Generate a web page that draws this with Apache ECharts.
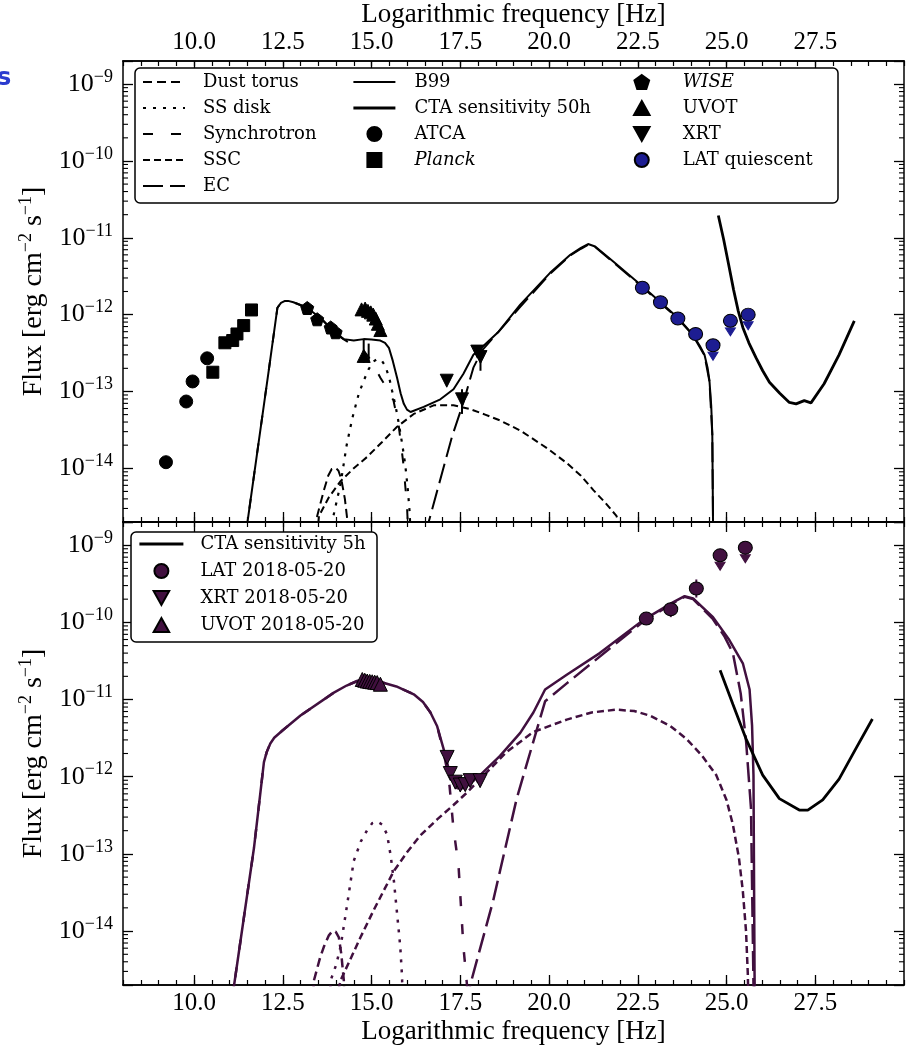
<!DOCTYPE html>
<html><head><meta charset="utf-8">
<script src="https://cdn.jsdelivr.net/npm/echarts@6/dist/echarts.min.js"></script>
<style>html,body{margin:0;padding:0;background:#fff}#c{width:911px;height:1046px}</style>
</head><body><div id="c"></div>
<script>
// ---------------- DATA ----------------
const xMajorTicks = [10, 12.5, 15, 17.5, 20, 22.5, 25, 27.5];

// Top panel (quiescent) model components [log10 nu, flux]
const dustTop = [[13.42,1.0e-15],[13.47,2.4e-15],[13.65,5.0e-15],[13.78,8.0e-15],[13.88,9.8e-15],[13.99,1.02e-14],[14.07,9.3e-15],[14.15,7.2e-15],[14.25,4.0e-15],[14.32,2.1e-15],[14.35,1.0e-15]];
const diskTop = [[13.86,1.0e-15],[13.9,2.1e-15],[14.13,6.3e-15],[14.3,2.0e-14],[14.46,4.5e-14],[14.64,9.3e-14],[14.78,1.38e-13],[14.92,1.95e-13],[15.05,2.45e-13],[15.16,2.63e-13],[15.28,2.55e-13],[15.39,2.14e-13],[15.5,1.5e-13],[15.58,1.02e-13],[15.68,6.4e-14],[15.77,3.8e-14],[15.87,2.0e-14],[15.95,1.12e-14],[16.02,5.5e-15],[16.08,2.5e-15],[16.1,1.0e-15]];
const syncTop = [[11.45,1.3e-15],[11.8,1.86e-14],[12.1,1.8e-13],[12.35,1.23e-12],[12.45,1.42e-12],[12.55,1.5e-12],[12.65,1.51e-12],[12.8,1.45e-12],[13.19,1.23e-12],[13.6,8.7e-13],[13.94,6.0e-13],[14.22,4.75e-13],[14.5,3.98e-13],[14.78,3.4e-13],[15.0,2.5e-13],[15.25,1.51e-13],[15.45,1.07e-13],[15.62,7.6e-14],[15.77,3.5e-14],[15.9,1.12e-14],[16.0,3.2e-15],[16.05,1.0e-15]];
const sscTop = [[13.45,1.0e-15],[13.52,2.4e-15],[13.8,4.2e-15],[14.13,6.8e-15],[14.5,1.0e-14],[14.88,1.41e-14],[15.3,2.2e-14],[15.72,3.47e-14],[16.19,5.1e-14],[16.75,6.6e-14],[17.31,6.6e-14],[17.78,5.9e-14],[18.2,5.0e-14],[18.62,4.2e-14],[19.19,3.1e-14],[19.56,2.4e-14],[20.0,1.75e-14],[20.5,1.17e-14],[20.9,8.0e-15],[21.25,5.2e-15],[21.6,3.5e-15],[21.9,2.4e-15],[22.05,1.5e-15]];
const ecTop = [[16.5,1.35e-15],[16.61,2.0e-15],[17.27,2.6e-14],[17.59,7.2e-14],[17.87,2.04e-13],[18.11,3.4e-13],[18.62,6.3e-13],[19.19,1.26e-12],[20.03,3.4e-12],[20.6,5.9e-12],[20.9,7.2e-12],[21.1,8.1e-12],[21.3,7.6e-12],[21.81,4.8e-12],[22.63,2.29e-12],[23.14,1.41e-12],[23.63,8.9e-13],[24.05,5.4e-13],[24.38,2.95e-13],[24.52,1.35e-13],[24.6,2.75e-14],[24.62,2.1e-15],[24.63,1.0e-15]];
const b99Top = [[11.45,1.3e-15],[11.8,1.86e-14],[12.1,1.8e-13],[12.35,1.23e-12],[12.45,1.42e-12],[12.55,1.5e-12],[12.65,1.51e-12],[12.8,1.45e-12],[13.19,1.23e-12],[13.6,8.7e-13],[13.94,6.0e-13],[14.22,4.8e-13],[14.5,4.6e-13],[14.78,4.8e-13],[15.0,4.75e-13],[15.25,4.6e-13],[15.38,4.3e-13],[15.49,3.7e-13],[15.6,2.5e-13],[15.72,1.51e-13],[15.82,9.5e-14],[15.91,6.9e-14],[16.0,5.8e-14],[16.1,5.4e-14],[16.47,6.3e-14],[16.94,7.9e-14],[17.31,1.07e-13],[17.59,1.7e-13],[17.87,3.0e-13],[18.15,3.9e-13],[18.58,6.0e-13],[19.19,1.35e-12],[20.03,3.5e-12],[20.6,6.0e-12],[20.9,7.4e-12],[21.1,8.3e-12],[21.3,7.7e-12],[21.81,4.9e-12],[22.63,2.34e-12],[23.14,1.45e-12],[23.63,9.1e-13],[24.05,5.5e-13],[24.25,3.9e-13],[24.38,3.0e-13],[24.47,2.0e-13],[24.52,1.38e-13],[24.57,6.5e-14],[24.6,2.8e-14],[24.62,2.1e-15],[24.63,1.0e-15]];
const cta50 = [[24.77,1.95e-11],[24.92,9.5e-12],[25.06,4.5e-12],[25.2,2.1e-12],[25.33,1.12e-12],[25.46,6.8e-13],[25.63,4.3e-13],[25.83,2.75e-13],[26.02,1.86e-13],[26.21,1.32e-13],[26.5,9.5e-14],[26.77,7.2e-14],[26.96,6.9e-14],[27.19,7.6e-14],[27.38,7.1e-14],[27.75,1.26e-13],[28.17,3.0e-13],[28.6,8.3e-13]];

// Top panel data points
const atca = [[9.21,1.2e-14],[9.78,7.4e-14],[9.96,1.35e-13],[10.37,2.7e-13]];
const planck = [[10.53,1.78e-13],[10.87,4.3e-13],[11.09,4.6e-13],[11.21,5.6e-13],[11.40,7.2e-13],[11.62,1.15e-12]];
const wise = [[13.19,1.22e-12],[13.47,8.7e-13],[13.85,6.8e-13],[13.99,5.9e-13]];
const uvotTop = [[14.72,1.17e-12],[14.82,1.2e-12],[14.9,1.12e-12],[14.98,1.07e-12],[15.05,1.0e-12],[15.12,8.9e-13],[15.18,7.6e-13],[15.25,6.3e-13],[14.78,2.9e-13]];
const xrtTop = [[17.12,1.38e-13],[17.55,7.9e-14],[17.98,3.3e-13],[18.07,2.8e-13]];
const latQ = [[22.63,2.24e-12],[23.14,1.45e-12],[23.63,8.9e-13],[24.13,5.6e-13]];
const latQUL = [[24.62,4.0e-13],[25.11,8.3e-13],[25.61,1.0e-12]];
const errTop = [[14.78,4.8e-13,2.35e-13],[14.92,4.2e-13,2.35e-13],[17.55,1.07e-13,5.1e-14],[18.07,3.5e-13,1.86e-13]];

// Bottom panel (2018-05-20 flare) model components
const dustBot = [[13.33,1.0e-15],[13.38,2.3e-15],[13.55,4.5e-15],[13.66,6.3e-15],[13.8,8.8e-15],[13.9,1.0e-14],[13.99,9.8e-15],[14.08,8.3e-15],[14.15,5.0e-15],[14.22,2.3e-15],[14.25,1.0e-15]];
const diskBot = [[13.82,1.0e-15],[13.85,2.3e-15],[14.0,3.6e-15],[14.13,6.3e-15],[14.3,2.0e-14],[14.5,8.1e-14],[14.7,1.45e-13],[14.88,2.04e-13],[15.02,2.5e-13],[15.16,2.63e-13],[15.3,2.4e-13],[15.44,1.78e-13],[15.54,9.5e-14],[15.63,4.5e-14],[15.72,1.7e-14],[15.81,6.3e-15],[15.86,2.6e-15],[15.88,1.0e-15]];
const syncBot = [[11.05,1.1e-15],[11.13,2.0e-15],[11.69,1.2e-13],[11.97,1.55e-12],[12.05,2.1e-12],[12.15,2.7e-12],[12.26,3.2e-12],[12.5,4.0e-12],[13.0,6.2e-12],[13.94,1.23e-11],[14.3,1.52e-11],[14.6,1.74e-11],[14.9,1.82e-11],[15.16,1.74e-11],[15.7,1.48e-11],[16.19,1.17e-11],[16.45,9.3e-12],[16.66,6.8e-12],[16.85,4.5e-12],[17.0,2.4e-12],[17.12,1.3e-12],[17.2,7.5e-13],[17.31,2.1e-13],[17.45,7.2e-14],[17.59,6.2e-15],[17.69,2.0e-15],[17.72,1.0e-15]];
const sscBot = [[14.0,1.26e-15],[14.13,2.3e-15],[14.69,8.3e-15],[15.06,1.86e-14],[15.63,6.0e-14],[16.0,1.05e-13],[16.38,1.74e-13],[16.85,2.8e-13],[17.31,4.3e-13],[17.7,6.3e-13],[18.06,9.3e-13],[18.81,2.1e-12],[19.56,3.8e-12],[20.5,5.5e-12],[21.2,6.8e-12],[21.9,7.4e-12],[22.4,7.1e-12],[22.84,6.2e-12],[23.4,4.6e-12],[23.87,3.1e-12],[24.3,1.9e-12],[24.71,1.05e-12],[25.0,5.0e-13],[25.18,2.4e-13],[25.35,8.9e-14],[25.46,3.3e-14],[25.55,1.0e-14],[25.6,2.8e-15],[25.62,1.0e-15]];
const ecBot = [[17.7,1.1e-15],[17.78,2.0e-15],[18.43,2.5e-14],[18.62,6.0e-14],[19.09,5.2e-13],[19.89,9.5e-12],[20.5,1.62e-11],[21.9,5.4e-11],[22.65,1.02e-10],[23.49,1.78e-10],[23.82,2.14e-10],[24.06,2.0e-10],[24.62,1.1e-10],[24.95,6.5e-11],[25.18,4.0e-11],[25.4,1.2e-11],[25.55,2.95e-12],[25.69,3.9e-13],[25.76,2.0e-15],[25.77,1.0e-15]];
const totalBot = [[11.05,1.1e-15],[11.13,2.0e-15],[11.69,1.2e-13],[11.97,1.55e-12],[12.05,2.1e-12],[12.15,2.7e-12],[12.26,3.2e-12],[12.5,4.0e-12],[13.0,6.2e-12],[13.94,1.23e-11],[14.3,1.52e-11],[14.6,1.74e-11],[14.9,1.82e-11],[15.16,1.74e-11],[15.7,1.48e-11],[16.19,1.17e-11],[16.45,9.3e-12],[16.66,6.8e-12],[16.85,4.5e-12],[17.03,2.3e-12],[17.22,1.05e-12],[17.41,7.1e-13],[17.59,7.1e-13],[17.8,8.3e-13],[18.06,1.05e-12],[18.62,1.86e-12],[19.19,3.7e-12],[19.56,6.8e-12],[19.89,1.35e-11],[20.5,2.1e-11],[21.43,4.0e-11],[22.65,1.07e-10],[23.49,1.82e-10],[23.82,2.19e-10],[24.06,2.04e-10],[24.62,1.17e-10],[25.08,5.9e-11],[25.46,2.95e-11],[25.65,1.35e-11],[25.72,4.6e-12],[25.76,1.05e-12],[25.79,2.8e-15],[25.8,1.0e-15]];
const cta5 = [[24.82,2.4e-11],[25.18,8.7e-12],[25.55,3.1e-12],[26.02,1.05e-12],[26.49,5.2e-13],[27.05,3.7e-13],[27.29,3.7e-13],[27.71,5.0e-13],[28.17,9.3e-13],[28.64,2.3e-12],[29.11,5.6e-12]];

// Bottom panel data points
const uvotBot = [[14.74,1.82e-11],[14.81,1.78e-11],[14.88,1.74e-11],[14.95,1.72e-11],[15.02,1.70e-11],[15.09,1.68e-11],[15.16,1.66e-11],[15.25,1.58e-11]];
const xrtBot = [[17.13,1.78e-12],[17.22,1.1e-12],[17.36,8.5e-13],[17.5,7.8e-13],[17.64,7.9e-13],[17.78,8.9e-13],[18.06,8.9e-13]];
const latBot = [[22.74,1.12e-10],[23.43,1.48e-10],[24.15,2.75e-10]];
const latBotUL = [[24.82,7.4e-10],[25.53,9.3e-10]];
const errBot = [[24.15,3.6e-10,2.1e-10],[23.43,1.6e-10,1.17e-10]];

// ---------------- STYLE ----------------
const FT = 'Liberation Serif';
const FL = 'DejaVu Serif';
const PURPLE = '#41103f';
const NAVY = '#1d1d92';
const TRI_DOWN = 'path://M0,0 L2,0 L1,1.8 Z';
const TRI_UP = 'path://M1,0 L2,1.8 L0,1.8 Z';
const SQUARE = 'path://M0,0 L1,0 L1,1 L0,1 Z';
const PENTA = 'path://M0,-1 L0.951,-0.309 L0.588,0.809 L-0.588,0.809 L-0.951,-0.309 Z';
const YMIN = 2e-15, YMAX = 2e-9;

const minorY = [];
for (let e = -15; e <= -9; e++) for (let k = 2; k <= 9; k++) { const v = k * Math.pow(10, e); if (v > YMIN && v < YMAX) minorY.push([8, v]); }

function yLabel(v) {
  const l = Math.log10(v), e = Math.round(l);
  if (Math.abs(l - e) > 1e-6) return '';
  return '{b|10}{s|\u2212' + (-e) + '}';
}
const yRich = {
  b: {fontFamily: FT, fontSize: 26, lineHeight: 32, color: '#000'},
  s: {fontFamily: FT, fontSize: 18, lineHeight: 16, verticalAlign: 'top', color: '#000'}
};
const nameRich = {
  a: {fontFamily: FT, fontSize: 28, lineHeight: 34, color: '#000'},
  s: {fontFamily: FT, fontSize: 18, lineHeight: 16, verticalAlign: 'top', color: '#000'}
};

function xAx(g, pos, showLabels, major, name) {
  const ax = {
    type: 'value', gridIndex: g, position: pos, min: 8, max: 30,
    axisLine: {show: true, onZero: false, lineStyle: {color: '#000', width: 1.5}},
    splitLine: {show: false},
    axisLabel: {show: false}
  };
  if (major) {
    ax.axisTick = {show: true, inside: true, length: 10, customValues: xMajorTicks, lineStyle: {color: '#000', width: 1.3}};
    if (showLabels) ax.axisLabel = {show: true, customValues: xMajorTicks, formatter: v => v.toFixed(1), fontFamily: FT, fontSize: 25, color: '#000', margin: 6};
  } else {
    ax.interval = 0.5;
    ax.axisTick = {show: true, inside: true, length: 5, lineStyle: {color: '#000', width: 1.2}};
  }
  if (name) {
    ax.name = name; ax.nameLocation = 'middle'; ax.nameGap = 33;
    ax.nameTextStyle = {fontFamily: FT, fontSize: 27, color: '#000'};
  }
  return ax;
}
function yAx(g, pos, labels) {
  const ax = {
    type: 'log', logBase: 10, gridIndex: g, position: pos, min: YMIN, max: YMAX,
    axisLine: {show: true, onZero: false, lineStyle: {color: '#000', width: 1.5}},
    axisTick: {show: true, inside: true, length: 10, lineStyle: {color: '#000', width: 1.3}},
    splitLine: {show: false}, minorTick: {show: false},
    axisLabel: labels ? {show: true, formatter: yLabel, rich: yRich, margin: 10} : {show: false}
  };
  if (labels) {
    ax.name = '{a|Flux [erg cm}{s|\u22122}{a| s}{s|\u22121}{a|]}';
    ax.nameLocation = 'middle'; ax.nameGap = 64; ax.nameRotate = 90;
    ax.nameTextStyle = {rich: nameRich};
  }
  return ax;
}

function line(name, data, xi, yi, color, width, type, z) {
  return {name, type: 'line', data, xAxisIndex: xi, yAxisIndex: yi, symbol: 'none', showSymbol: false,
    smooth: false, clip: true, z: z || 2,
    lineStyle: {color, width, type: type || 'solid'}, itemStyle: {color}};
}
function scat(name, data, xi, yi, symbol, size, color, border, extra) {
  return Object.assign({name, type: 'scatter', data, xAxisIndex: xi, yAxisIndex: yi, symbol, symbolSize: size, z: 6,
    itemStyle: {color, borderColor: border, borderWidth: 1, opacity: 1}}, extra || {});
}
function minorTicks(xi, yi) {
  return {type: 'custom', xAxisIndex: xi, yAxisIndex: yi, data: minorY, silent: true, z: 10, clip: false,
    encode: {x: 0, y: 1},
    renderItem(params, api) {
      const p = api.coord([api.value(0), api.value(1)]);
      const cs = params.coordSys;
      const st = {stroke: '#000', lineWidth: 1.1};
      return {type: 'group', children: [
        {type: 'line', shape: {x1: cs.x, y1: p[1], x2: cs.x + 5, y2: p[1]}, style: st},
        {type: 'line', shape: {x1: cs.x + cs.width - 5, y1: p[1], x2: cs.x + cs.width, y2: p[1]}, style: st}
      ]};
    }};
}
function errBars(data, xi, yi, color) {
  return {type: 'custom', xAxisIndex: xi, yAxisIndex: yi, data, silent: true, z: 5,
    encode: {x: 0, y: [1, 2]},
    renderItem(params, api) {
      const a = api.coord([api.value(0), api.value(1)]);
      const b = api.coord([api.value(0), api.value(2)]);
      return {type: 'line', shape: {x1: a[0], y1: a[1], x2: b[0], y2: b[1]}, style: {stroke: color, lineWidth: 2}};
    }};
}

const D_DUST = [9, 5], D_DISK = [3, 7], D_SYNC = [10, 18], D_SSC = [7, 4], D_EC = [20, 7];

const legText = (pad) => ({fontFamily: FL, fontSize: 18, lineHeight: 18, color: '#000', padding: [0, 0, 0, pad],
  rich: {i: {fontFamily: FL, fontSize: 18, fontStyle: 'italic', color: '#000'}}});
const legFmt = n => (n === 'Planck' || n === 'WISE') ? '{i|' + n + '}' : n;
const lineItem = (n, w) => ({name: n, itemStyle: {opacity: 0}, lineStyle: {width: w || 2}});

const option = {
  animation: false,
  backgroundColor: '#fff',
  grid: [
    {left: 123, right: 7, top: 58, height: 464},
    {left: 123, right: 7, top: 522, height: 466}
  ],
  xAxis: [
    xAx(0, 'bottom', false, true), xAx(0, 'bottom', false, false),
    xAx(0, 'top', true, true, 'Logarithmic frequency [Hz]'), xAx(0, 'top', false, false),
    xAx(1, 'bottom', true, true, 'Logarithmic frequency [Hz]'), xAx(1, 'bottom', false, false),
    xAx(1, 'top', false, true), xAx(1, 'top', false, false)
  ],
  yAxis: [yAx(0, 'left', true), yAx(0, 'right', false), yAx(1, 'left', true), yAx(1, 'right', false)],
  legend: [
    {data: ['Dust torus', 'SS disk', 'Synchrotron', 'SSC', 'EC'].map(n => lineItem(n)), left: 142, top: 73, orient: 'vertical', itemWidth: 42, itemHeight: 14, itemGap: 8, padding: 0, selectedMode: false, textStyle: legText(13)},
    {data: [lineItem('B99', 2), lineItem('CTA sensitivity 50h', 2.8), 'ATCA', 'Planck'], left: 352, top: 73, orient: 'vertical', itemWidth: 42, itemHeight: 14, itemGap: 8, padding: 0, selectedMode: false, textStyle: legText(14), formatter: legFmt},
    {data: ['WISE', 'UVOT', 'XRT', 'LAT quiescent'], left: 633, top: 73, orient: 'vertical', itemWidth: 42, itemHeight: 14, itemGap: 8, padding: 0, selectedMode: false, textStyle: legText(15), formatter: legFmt},
    {data: [lineItem('CTA sensitivity 5h', 2.8), 'LAT 2018-05-20', 'XRT 2018-05-20', 'UVOT 2018-05-20'], left: 138, top: 535, orient: 'vertical', itemWidth: 44, itemHeight: 14, itemGap: 9, padding: 0, selectedMode: false, textStyle: legText(12)}
  ],
  graphic: [
    {type: 'rect', z: 1, shape: {x: 135, y: 68, width: 703, height: 135, r: 5}, style: {fill: '#fff', stroke: '#000', lineWidth: 1.5}},
    {type: 'rect', z: 1, shape: {x: 131, y: 532, width: 246, height: 110, r: 5}, style: {fill: '#fff', stroke: '#000', lineWidth: 1.5}},
    {type: 'text', z: 1, left: -3, top: 67, style: {text: 's', font: 'bold 24px "DejaVu Sans"', fill: '#2b3ccf'}}
  ],
  series: [
    // top
    line('Dust torus', dustTop, 0, 0, '#000', 2, D_DUST),
    line('SS disk', diskTop, 0, 0, '#000', 2.2, D_DISK),
    line('Synchrotron', syncTop, 0, 0, '#000', 2, D_SYNC),
    line('SSC', sscTop, 0, 0, '#000', 2, D_SSC),
    line('EC', ecTop, 0, 0, '#000', 2, D_EC),
    line('B99', b99Top, 0, 0, '#000', 2, 'solid', 3),
    line('CTA sensitivity 50h', cta50, 0, 0, '#000', 2.8, 'solid', 3),
    errBars(errTop, 0, 0, '#000'),
    scat('ATCA', atca, 0, 0, 'circle', 13, '#000', '#000'),
    scat('Planck', planck, 0, 0, SQUARE, 12, '#000', '#000'),
    scat('WISE', wise, 0, 0, PENTA, 13, '#000', '#000'),
    scat('UVOT', uvotTop, 0, 0, TRI_UP, 13, '#000', '#000'),
    scat('XRT', xrtTop, 0, 0, TRI_DOWN, 13, '#000', '#000'),
    scat('LAT quiescent', latQ.concat(latQUL), 0, 0, 'circle', [14, 13], NAVY, '#000'),
    scat('LAT quiescent UL', latQUL, 0, 0, TRI_DOWN, [10, 8], NAVY, NAVY, {symbolOffset: [0, 11], z: 5}),
    minorTicks(0, 0),
    // bottom
    line('Dust torus 2018', dustBot, 4, 2, PURPLE, 2.5, D_DUST),
    line('SS disk 2018', diskBot, 4, 2, PURPLE, 2.5, D_DISK),
    line('Synchrotron 2018', syncBot, 4, 2, PURPLE, 2.5, D_SYNC),
    line('SSC 2018', sscBot, 4, 2, PURPLE, 2.5, D_SSC),
    line('EC 2018', ecBot, 4, 2, PURPLE, 2.5, D_EC),
    line('Model 2018', totalBot, 4, 2, PURPLE, 2.5, 'solid', 3),
    line('CTA sensitivity 5h', cta5, 4, 2, '#000', 2.8, 'solid', 3),
    errBars(errBot, 4, 2, PURPLE),
    scat('LAT 2018-05-20', latBot.concat(latBotUL), 4, 2, 'circle', [14, 13], PURPLE, '#000'),
    scat('LAT 2018-05-20 UL', latBotUL, 4, 2, TRI_DOWN, [10, 8], PURPLE, PURPLE, {symbolOffset: [0, 11], z: 5}),
    scat('XRT 2018-05-20', xrtBot, 4, 2, TRI_DOWN, 14, PURPLE, '#000'),
    scat('UVOT 2018-05-20', uvotBot, 4, 2, TRI_UP, 14, PURPLE, '#000'),
    minorTicks(4, 2)
  ]
};
const chart = echarts.init(document.getElementById('c'), null, {renderer: 'canvas'});
chart.setOption(option);
</script></body></html>
